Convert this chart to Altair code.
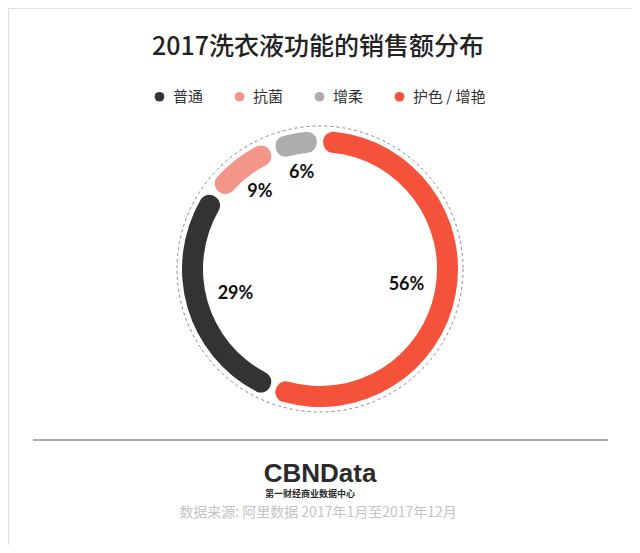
import altair as alt
import pandas as pd

# ---- data ----
categories = ["普通", "抗菌", "增柔", "护色 / 增艳"]
shares = [29, 9, 6, 56]
stack_order = [2, 3, 4, 1]  # orange starts at 12 o'clock, then clockwise
colors = ["#333333", "#F4958A", "#ADADAD", "#F4523A"]

title_text = "2017洗衣液功能的销售额分布"
brand_text = "CBNData"
brand_sub = "第一财经商业数据中心"
source_text = "数据来源: 阿里数据 2017年1月至2017年12月"

df = pd.DataFrame({"category": categories, "share": shares, "ord": stack_order})
df["label"] = df["share"].astype(str) + "%"

W, H = 624, 537
CX, CY = 312, 261
CJK = "Noto Sans CJK SC"

color_scale = alt.Scale(domain=categories, range=colors)
theta_scale = alt.Scale(domain=[0, 100])

base = alt.Chart(df).transform_window(
    cum="sum(share)", sort=[alt.SortField("ord", order="ascending")],
    frame=[None, 0]
).transform_calculate(
    cum0="datum.cum - datum.share",
    mid="datum.cum - datum.share / 2",
    lr="datum.share < 10 ? 98 : 88",
)

arcs = base.mark_arc(
    outerRadius=138, innerRadius=117, cornerRadius=10, padAngle=0.035
).encode(
    x=alt.value(CX),
    y=alt.value(CY),
    theta=alt.Theta("cum0:Q", scale=theta_scale, stack=None),
    theta2="cum:Q",
    color=alt.Color(
        "category:N",
        scale=color_scale,
        sort=categories,
        legend=alt.Legend(
            title=None,
            orient="none",
            legendX=144,
            legendY=81,
            direction="horizontal",
            symbolType="circle",
            symbolSize=95,
            symbolStrokeWidth=0,
            labelFont=CJK,
            labelFontSize=15,
            labelColor="#333333",
            labelOffset=6,
            columnPadding=28,
            padding=0,
        ),
    ),
)

labels = base.mark_text(
    font="Lato", fontWeight="bold", fontSize=18, color="#111111"
).encode(
    x=alt.value(CX),
    y=alt.value(CY),
    theta=alt.Theta("mid:Q", scale=theta_scale, stack=None),
    radius=alt.Radius("lr:Q", scale=None),
    text="label:N",
)

one = alt.Data(values=[{"k": 1}])

ring = alt.Chart(one).mark_point(
    shape="circle", filled=False, size=286 * 286, stroke="#888888",
    strokeWidth=1, strokeDash=[3, 3], opacity=1
).encode(x=alt.value(CX), y=alt.value(CY))

title = alt.Chart(one).mark_text(
    text=title_text, font=CJK, fontSize=25, fontWeight=500, color="#222222",
    baseline="middle", align="center"
).encode(x=alt.value(310), y=alt.value(39))

rule = alt.Chart(one).mark_rule(stroke="#AAAAAA", strokeWidth=2).encode(
    x=alt.value(25), x2=alt.value(600), y=alt.value(432)
)

brand = alt.Chart(one).mark_text(
    text=brand_text, font="Liberation Sans", fontSize=26, fontWeight="bold",
    color="#2b2b2b", baseline="alphabetic", align="center"
).encode(x=alt.value(312), y=alt.value(474))

brand2 = alt.Chart(one).mark_text(
    text=brand_sub, font=CJK, fontSize=9, fontWeight="bold",
    color="#2b2b2b", baseline="middle", align="left"
).encode(x=alt.value(257), y=alt.value(486))

source = alt.Chart(one).mark_text(
    text=source_text, font=CJK, fontSize=14, color="#C4C4C4",
    baseline="middle", align="center"
).encode(x=alt.value(310), y=alt.value(505))

chart = alt.layer(ring, arcs, labels, title, rule, brand, brand2, source).properties(
    width=W, height=H, autosize="none", padding=0
).configure_view(stroke=None).configure(background="#ffffff")

chart.save("out.html", embed_options={"renderer": "svg", "actions": False})
